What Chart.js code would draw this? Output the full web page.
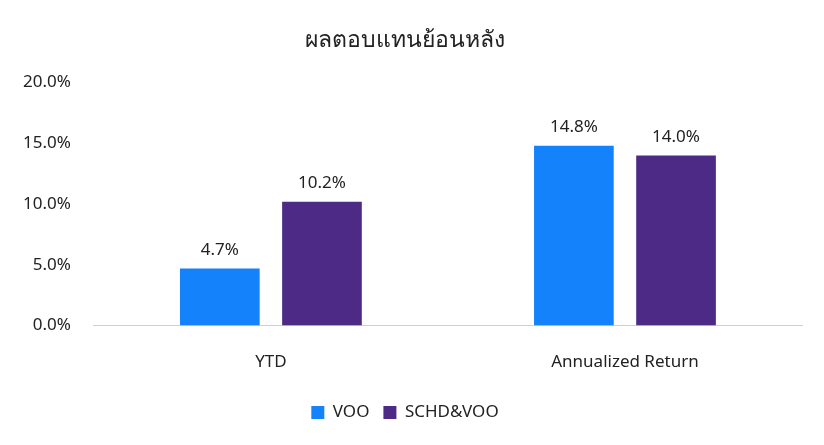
<!DOCTYPE html>
<html>
<head>
<meta charset="utf-8">
<script src="https://cdn.jsdelivr.net/npm/chart.js@4/dist/chart.umd.min.js"></script>
<style>
  html, body { margin: 0; padding: 0; background: #fff; }
  #wrap { width: 824px; height: 445px; }
</style>
</head>
<body>
<div id="wrap"><canvas id="returnChart"></canvas></div>
<script>
const categories = ["YTD", "Annualized Return"];
const vooValues = [4.7, 14.8];
const schdVooValues = [10.2, 14.0];
const seriesNames = ["VOO", "SCHD&VOO"];

// draws value labels above each bar
const barLabels = {
    id: "barLabels",
    afterDatasetsDraw(chart) {
        const ctx = chart.ctx;
        ctx.save();
        ctx.font = "17px 'Noto Sans', sans-serif";
        ctx.fillStyle = "#222";
        ctx.textAlign = "center";
        ctx.textBaseline = "bottom";
        chart.data.datasets.forEach((ds, i) => {
            chart.getDatasetMeta(i).data.forEach((bar, j) => {
                ctx.fillText(ds.data[j].toFixed(1) + "%", bar.x, bar.y - 10);
            });
        });
        ctx.restore();
    }
};

const ctx = document.getElementById("returnChart").getContext("2d");
new Chart(ctx, {
    type: "bar",
    data: {
        labels: categories,
        datasets: [
            { label: seriesNames[0], data: vooValues, backgroundColor: "#1482fa" },
            { label: seriesNames[1], data: schdVooValues, backgroundColor: "#4e2a87" }
        ]
    },
    options: {
        responsive: true,
        maintainAspectRatio: false,
        animation: false,
        categoryPercentage: 0.577,
        barPercentage: 0.78,
        layout: { padding: { left: 8, right: 22, top: 10, bottom: 14 } },
        scales: {
            x: {
                grid: { display: false },
                border: { color: "#d0d0d0" },
                ticks: { color: "#222", font: { size: 17, family: "'Noto Sans', sans-serif" }, padding: 18 }
            },
            y: {
                min: 0,
                max: 20,
                grid: { display: false },
                border: { display: false },
                ticks: {
                    stepSize: 5,
                    color: "#222",
                    padding: 15,
                    font: { size: 17, family: "'Noto Sans', sans-serif" },
                    callback: v => v.toFixed(1) + "%"
                }
            }
        },
        plugins: {
            title: {
                display: true,
                text: "ผลตอบแทนย้อนหลัง",
                color: "#222",
                font: { size: 23, weight: "normal", family: "'Noto Sans', sans-serif" },
                padding: { top: 17, bottom: 28 }
            },
            legend: {
                position: "bottom",
                labels: {
                    color: "#222",
                    boxWidth: 13,
                    boxHeight: 13,
                    padding: 14,
                    font: { size: 17, family: "'Noto Sans', sans-serif" }
                }
            },
            tooltip: { enabled: false }
        }
    },
    plugins: [barLabels]
});
</script>
</body>
</html>
